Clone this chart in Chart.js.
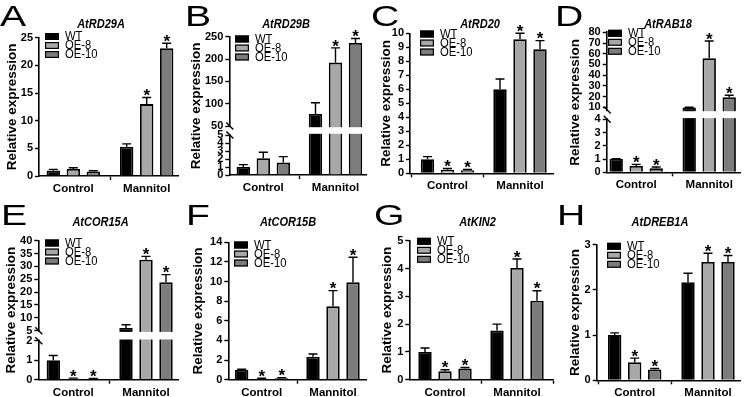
<!DOCTYPE html>
<html><head><meta charset="utf-8">
<script src="https://cdn.jsdelivr.net/npm/chart.js@4.4.1/dist/chart.umd.min.js"></script>
<style>
html,body{margin:0;padding:0;background:#fff;}
#wrap{position:relative;width:744px;height:397px;overflow:hidden;background:#fff;}
#wrap canvas{position:absolute;}
</style></head><body><div id="wrap"></div>
<script>
// ---------------- DATA ----------------
const categories = ['Control', 'Mannitol'];
const seriesNames = ['WT', 'OE-8', 'OE-10'];
const genes = ['AtRD29A', 'AtRD29B', 'AtRD20', 'AtRAB18', 'AtCOR15A', 'AtCOR15B', 'AtKIN2', 'AtDREB1A'];
const panelLetters = ['A', 'B', 'C', 'D', 'E', 'F', 'G', 'H'];

// rows: WT, OE-8, OE-10 ; columns: Control, Mannitol
const rd29aMean = [[1.0, 5.3], [1.26, 13.0], [0.8, 23.1]];
const rd29aErr  = [[0.2, 0.5], [0.22, 1.2], [0.16, 0.9]];
const rd29aSig  = [[0, 0], [0, 1], [0, 1]];
const rd29aTicks = [0, 5, 10, 15, 20, 25];

const rd29bMean = [[1.0, 77], [2.1, 192], [1.55, 236]];
const rd29bErr  = [[0.3, 25], [0.75, 33], [0.75, 10]];
const rd29bSig  = [[0, 0], [0, 1], [0, 1]];
const rd29bTicks = [0, 1, 2, 3, 4, 5, 50, 100, 150, 200, 250];

const rd20Mean = [[1.0, 6.0], [0.25, 9.57], [0.22, 8.86]];
const rd20Err  = [[0.19, 0.74], [0.09, 0.43], [0.05, 0.62]];
const rd20Sig  = [[0, 0], [1, 1], [1, 1]];
const rd20Ticks = [0, 1, 2, 3, 4, 5, 6, 7, 8, 9, 10];

const rab18Mean = [[1.0, 9.8], [0.48, 55.7], [0.3, 19.3]];
const rab18Err  = [[0.02, 0.2], [0.12, 16.2], [0.1, 1.9]];
const rab18Sig  = [[0, 0], [1, 1], [1, 1]];
const rab18Ticks = [0, 1, 2, 3, 4, 10, 20, 30, 40, 50, 60, 70, 80];

const cor15aMean = [[1.0, 6.05], [0.05, 32.6], [0.05, 23.8]];
const cor15aErr  = [[0.24, 1.25], [0.03, 1.3], [0.02, 3.0]];
const cor15aSig  = [[0, 0], [1, 1], [1, 1]];
const cor15aTicks = [0, 1, 2, 5, 10, 15, 20, 25, 30, 35, 40];

const cor15bMean = [[1.0, 2.34], [0.1, 7.48], [0.15, 9.92]];
const cor15bErr  = [[0.06, 0.28], [0.05, 1.6], [0.05, 2.55]];
const cor15bSig  = [[0, 0], [1, 1], [1, 1]];
const cor15bTicks = [0, 2, 4, 6, 8, 10, 12, 14];

const kin2Mean = [[1.0, 1.77], [0.30, 4.02], [0.40, 2.84]];
const kin2Err  = [[0.14, 0.23], [0.06, 0.32], [0.04, 0.36]];
const kin2Sig  = [[0, 0], [1, 1], [1, 1]];
const kin2Ticks = [0, 1, 2, 3, 4, 5];

const dreb1aMean = [[1.0, 2.17], [0.40, 2.62], [0.24, 2.62]];
const dreb1aErr  = [[0.05, 0.2], [0.09, 0.19], [0.02, 0.14]];
const dreb1aSig  = [[0, 0], [1, 1], [1, 1]];
const dreb1aTicks = [0, 1, 2, 3];

const panelData = [
  [rd29aMean, rd29aErr, rd29aSig, rd29aTicks],
  [rd29bMean, rd29bErr, rd29bSig, rd29bTicks],
  [rd20Mean, rd20Err, rd20Sig, rd20Ticks],
  [rab18Mean, rab18Err, rab18Sig, rab18Ticks],
  [cor15aMean, cor15aErr, cor15aSig, cor15aTicks],
  [cor15bMean, cor15bErr, cor15bSig, cor15bTicks],
  [kin2Mean, kin2Err, kin2Sig, kin2Ticks],
  [dreb1aMean, dreb1aErr, dreb1aSig, dreb1aTicks]
];

// ---------------- LAYOUT / STYLE ----------------
const FONT = "'Liberation Sans', Arial, Helvetica, sans-serif";
const barColors = ['#000000', '#a8a8a8', '#7c7c7c'];
// axis segments: [[value, screenY], [value, screenY]] per piece
const layout = [
  {ox:0,   oy:0, w:185, h:198, axisX:39,    ctrlX:73.3,  manX:146.7, xEnd:178,   pieces:[[[0,176],[25,37.7]]], letterX:0, letterY:26, titleX:101, titleY:28, yTitleX:12, legX:45, legY:36.5},
  {ox:185, oy:0, w:185, h:198, axisX:229.3, ctrlX:263.3, manX:335.5, xEnd:366.7, pieces:[[[0,175],[5,135]],[[50,126],[250,36.7]]], letterX:185, letterY:26, titleX:286, titleY:28, yTitleX:196, legX:235, legY:39},
  {ox:370, oy:0, w:185, h:198, axisX:410,   ctrlX:447.5, manX:520,   xEnd:553,   pieces:[[[0,173.3],[10,33.3]]], letterX:371, letterY:26, titleX:480, titleY:28, yTitleX:386, legX:420, legY:34},
  {ox:555, oy:0, w:189, h:198, axisX:606.7, ctrlX:636.2, manX:709.2, xEnd:740,   pieces:[[[0,172.3],[4,119.3]],[[7.5,110],[80,32.3]]], letterX:555, letterY:26, titleX:668, titleY:28, yTitleX:575, legX:608, legY:33.3},
  {ox:0,   oy:198, w:185, h:199, axisX:38.3, ctrlX:73.3, manX:146,   xEnd:178,   pieces:[[[0,379.7],[2,340.7]],[[5,330.7],[40,240.7]]], letterX:1, letterY:225, titleX:100.5, titleY:225.5, yTitleX:11.7, legX:45, legY:243},
  {ox:185, oy:198, w:185, h:199, axisX:228.3, ctrlX:261.7, manX:333, xEnd:366.7, pieces:[[[0,379.7],[14,242.3]]], letterX:186, letterY:225, titleX:288, titleY:225.5, yTitleX:198, legX:234, legY:245},
  {ox:370, oy:198, w:185, h:199, axisX:409.3, ctrlX:445,   manX:517,   xEnd:553,   pieces:[[[0,379.7],[5,240.7]]], letterX:374, letterY:225, titleX:477.5, titleY:225.5, yTitleX:387.5, legX:417, legY:241.3},
  {ox:555, oy:198, w:189, h:199, axisX:596.7, ctrlX:634.7, manX:708,   xEnd:740,   pieces:[[[0,380.3],[3,244.7]]], letterX:557, letterY:225, titleX:660, titleY:225.5, yTitleX:575, legX:607, legY:246.3}
];

// ---------------- piecewise (broken) linear scale ----------------
const PIECES = {};
function valToFrac(pcs, v) {
  for (let k = 0; k < pcs.length; k++) {
    const p = pcs[k];
    if (v <= p.v1 || k === pcs.length - 1) {
      if (v >= p.v0 || k === 0) return p.f0 + (v - p.v0) / (p.v1 - p.v0) * (p.f1 - p.f0);
      const q = pcs[k - 1];
      return q.f1 + (v - q.v1) / (p.v0 - q.v1) * (p.f0 - q.f1);
    }
  }
  return 1;
}
function fracToVal(pcs, f) {
  for (let k = 0; k < pcs.length; k++) {
    const p = pcs[k];
    if (f <= p.f1 || k === pcs.length - 1) {
      if (f >= p.f0 || k === 0) return p.v0 + (f - p.f0) / (p.f1 - p.f0) * (p.v1 - p.v0);
      const q = pcs[k - 1];
      return q.v1 + (f - q.f1) / (p.f0 - q.f1) * (p.v0 - q.v1);
    }
  }
  return 0;
}
class PiecewiseScale extends Chart.LinearScale {
  getPixelForValue(value) {
    if (value === null || value === undefined || isNaN(value)) return NaN;
    const f = valToFrac(PIECES[this.chart.canvas.id], value);
    return this.bottom - f * (this.bottom - this.top);
  }
  getValueForPixel(pixel) {
    const f = (this.bottom - pixel) / (this.bottom - this.top);
    return fracToVal(PIECES[this.chart.canvas.id], f);
  }
}
PiecewiseScale.id = 'piecewise';
PiecewiseScale.defaults = {};
Chart.register(PiecewiseScale);

const wrap = document.getElementById('wrap');

function makeDecor(idx, L, mean, err, sig) {
  return {
    id: 'decor' + idx,
    afterDatasetsDraw(chart) {
      const ctx = chart.ctx, ys = chart.scales.y, area = chart.chartArea;
      ctx.save();
      // axis breaks
      for (let k = 0; k < L.pieces.length - 1; k++) {
        const pxL = ys.getPixelForValue(L.pieces[k][1][0]);
        const pxU = ys.getPixelForValue(L.pieces[k + 1][0][0]);
        ctx.fillStyle = '#fff';
        ctx.fillRect(area.left - 2, pxU + 1.2, area.right - area.left + 6, pxL - pxU - 2.4);
        ctx.strokeStyle = '#000'; ctx.lineWidth = 1.4;
        [pxU, pxL].forEach(py => {
          ctx.beginPath();
          ctx.moveTo(area.left - 3, py - 3.5);
          ctx.lineTo(area.left + 4, py + 3.5);
          ctx.stroke();
        });
      }
      // error bars + significance
      chart.data.datasets.forEach((ds, i) => {
        const meta = chart.getDatasetMeta(i);
        meta.data.forEach((bar, j) => {
          const top = ys.getPixelForValue(mean[i][j] + err[i][j]);
          ctx.strokeStyle = '#000'; ctx.lineWidth = 1.4;
          ctx.beginPath();
          ctx.moveTo(bar.x, bar.y); ctx.lineTo(bar.x, top);
          ctx.moveTo(bar.x - 4.5, top); ctx.lineTo(bar.x + 4.5, top);
          ctx.stroke();
          if (sig[i][j]) {
            const s = 17;
            ctx.fillStyle = '#000';
            ctx.font = 'bold ' + s + 'px ' + FONT;
            ctx.textAlign = 'center'; ctx.textBaseline = 'alphabetic';
            ctx.fillText('*', bar.x, top - 4 + 0.45 * s);
          }
        });
      });
      ctx.restore();
    },
    afterDraw(chart) {
      const ctx = chart.ctx;
      ctx.save();
      // panel letter
      ctx.fillStyle = '#000';
      ctx.font = '29px ' + FONT;
      ctx.textAlign = 'left'; ctx.textBaseline = 'alphabetic';
      ctx.save();
      ctx.translate(L.letterX - L.ox, L.letterY - L.oy);
      ctx.scale(1.35, 1);
      ctx.fillText(panelLetters[idx], 0, 0);
      ctx.restore();
      // gene title
      ctx.save();
      ctx.translate(L.titleX - L.ox, L.titleY - L.oy);
      ctx.scale(0.88, 1);
      ctx.font = 'italic bold 12.5px ' + FONT;
      ctx.textAlign = 'center';
      ctx.fillText(genes[idx], 0, 0);
      ctx.restore();
      // legend
      ctx.font = '12.5px ' + FONT;
      ctx.textAlign = 'left'; ctx.textBaseline = 'middle';
      seriesNames.forEach((nm, i) => {
        const cy = L.legY - L.oy + i * 9;
        const bx = L.legX - L.ox;
        ctx.fillStyle = barColors[i];
        ctx.fillRect(bx, cy - 3.5, 14, 7);
        ctx.strokeStyle = '#000'; ctx.lineWidth = 1.2;
        ctx.strokeRect(bx + 0.6, cy - 2.9, 12.8, 5.8);
        ctx.fillStyle = '#000';
        ctx.save();
        ctx.translate(bx + 20, cy + 0.5);
        ctx.scale(0.9, 1);
        ctx.fillText(nm, 0, 0);
        ctx.restore();
      });
      ctx.restore();
    }
  };
}

layout.forEach((L, idx) => {
  const [mean, err, sig, ticks] = panelData[idx];
  const cv = document.createElement('canvas');
  cv.id = 'panel' + idx;
  cv.width = L.w; cv.height = L.h;
  cv.style.left = L.ox + 'px'; cv.style.top = L.oy + 'px';
  cv.style.width = L.w + 'px'; cv.style.height = L.h + 'px';
  wrap.appendChild(cv);

  const yBot = L.pieces[0][0][1];
  const last = L.pieces[L.pieces.length - 1];
  const yTop = last[1][1];
  const Hpx = yBot - yTop;
  PIECES[cv.id] = L.pieces.map(pc => ({
    v0: pc[0][0], f0: (yBot - pc[0][1]) / Hpx,
    v1: pc[1][0], f1: (yBot - pc[1][1]) / Hpx
  }));
  const yMax = last[1][0];
  const dist = L.manX - L.ctrlX;
  const xMin = -(L.ctrlX - L.axisX) / dist;
  const xMax = 1 + (L.xEnd - L.manX) / dist;
  const xAxisH = 22;
  const yTitleSize = 13.5;
  const lineH = yTitleSize * 1.2;

  const datasets = seriesNames.map((nm, i) => ({
    label: nm,
    data: categories.map((c, j) => ({x: j, y: mean[i][j]})),
    backgroundColor: barColors[i],
    borderColor: '#000',
    borderWidth: 1.8,
    categoryPercentage: 60 / dist,
    barPercentage: 0.67
  }));

  new Chart(cv, {
    type: 'bar',
    data: {datasets},
    plugins: [makeDecor(idx, L, mean, err, sig)],
    options: {
      responsive: false,
      animation: false,
      devicePixelRatio: 1,
      events: [],
      layout: {padding: {left: 0, top: yTop - L.oy, right: L.ox + L.w - L.xEnd, bottom: L.oy + L.h - yBot - xAxisH}},
      plugins: {legend: {display: false}, title: {display: false}, tooltip: {enabled: false}},
      scales: {
        x: {
          type: 'linear', min: xMin, max: xMax, offset: false,
          afterBuildTicks: s => { s.ticks = categories.map((c, j) => ({value: j})); },
          afterFit: s => { s.height = xAxisH; },
          ticks: {
            autoSkip: false, maxRotation: 0, padding: 2, color: '#000',
            font: {family: FONT, size: 11.5, weight: 'bold'},
            callback: v => categories[v] !== undefined ? categories[v] : ''
          },
          grid: {display: true, drawOnChartArea: false, drawTicks: true, tickLength: 4, color: '#000', tickWidth: 1.4},
          border: {display: true, color: '#000', width: 1.6}
        },
        y: {
          type: 'piecewise', min: 0, max: yMax,
          afterBuildTicks: s => { s.ticks = ticks.map(v => ({value: v})); },
          afterFit: s => { s.width = L.axisX - L.ox; },
          ticks: {
            autoSkip: false, padding: 2, color: '#000',
            font: {family: FONT, size: 11, weight: 'bold'},
            callback: v => String(v)
          },
          grid: {display: true, drawOnChartArea: false, drawTicks: true, tickLength: 4, color: '#000', tickWidth: 1.4},
          border: {display: true, color: '#000', width: 1.6},
          title: {
            display: true, text: 'Relative expression', color: '#000',
            font: {family: FONT, size: yTitleSize, weight: 'bold'},
            padding: {top: Math.max(0, L.yTitleX - L.ox - lineH / 2), bottom: 0}
          }
        }
      }
    }
  });
});
</script>
</body></html>
